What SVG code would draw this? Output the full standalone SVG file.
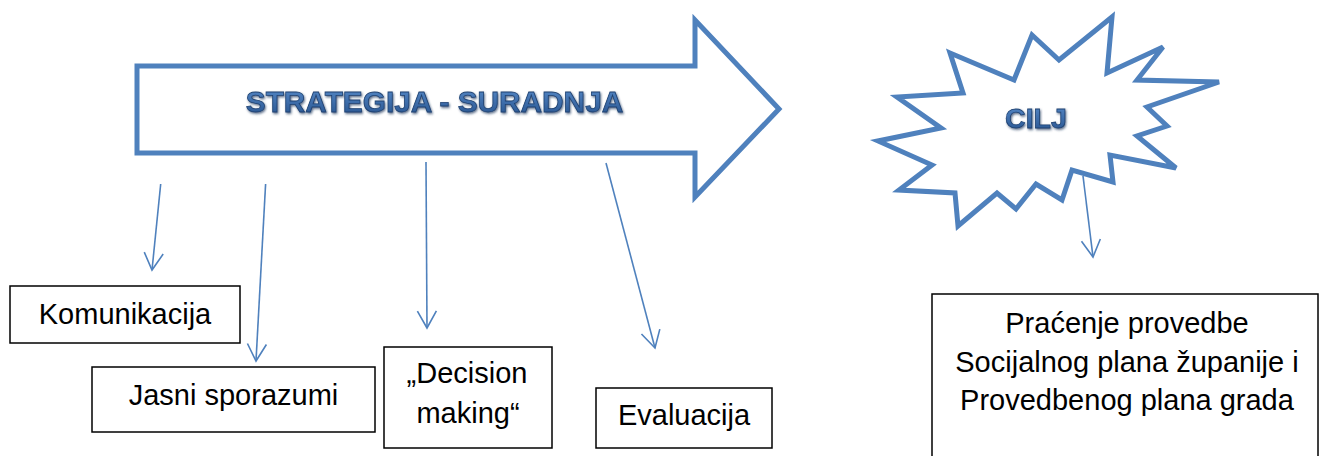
<svg xmlns="http://www.w3.org/2000/svg" width="1319" height="456" viewBox="0 0 1319 456">
<style>
.shape{fill:#ffffff;stroke:#4f81bd;stroke-width:5;stroke-linejoin:miter}
.box{fill:#ffffff;stroke:#000000;stroke-width:1.5}
.lbl{font-family:"Liberation Sans",Arial,sans-serif;font-size:29px;fill:#000000;text-anchor:middle}
.title{font-family:"Liberation Sans",Arial,sans-serif;font-weight:bold;fill:url(#tg);stroke:#1f4272;stroke-width:0.8;text-anchor:middle;filter:url(#sh)}
.conn{fill:none;stroke:#4f81bd;stroke-width:1.6;marker-end:url(#open)}
</style>
<defs>
<linearGradient id="tg" x1="0" y1="0" x2="0" y2="1">
<stop offset="0" stop-color="#5a8ccb"/>
<stop offset="1" stop-color="#24518c"/>
</linearGradient>
<filter id="sh" x="-10%" y="-30%" width="120%" height="160%">
<feDropShadow dx="1" dy="1.5" stdDeviation="1" flood-color="#1a355a" flood-opacity="0.7"/>
</filter>
<marker id="open" markerUnits="userSpaceOnUse" markerWidth="20" markerHeight="22" refX="18" refY="10" orient="auto" viewBox="0 0 20 20">
<path d="M1,0.5 L18,10 L1,19.5" fill="none" stroke="#4f81bd" stroke-width="1.6"/>
</marker>
</defs>
<g id="strategija">
<polygon class="shape" points="137,66 695,66 695,20 779,109 695,197 695,153 137,153"/>
<text class="title" x="434.5" y="112" font-size="29.8">STRATEGIJA - SURADNJA</text>
</g>
<g id="cilj">
<polygon class="shape" stroke-linejoin="round" points="950,53 1014,80 1032,35 1059,60 1112,17 1107,73 1163,47 1137,80 1219,82 1147,107 1167,126 1137,136 1176,168 1110,155 1113,182 1072,170 1062,200 1036,184 1016,209 997,193 958,226 955,193 899,190 932,165 878,141 941,128 897,97 963,93"/>
<text class="title" x="1036" y="128" font-size="28.5">CILJ</text>
</g>
<g id="komunikacija">
<rect class="box" x="10" y="286" width="230" height="57"/>
<text class="lbl" x="125" y="324">Komunikacija</text>
</g>
<g id="jasni">
<rect class="box" x="92" y="367" width="283" height="65"/>
<text class="lbl" x="233.5" y="405">Jasni sporazumi</text>
</g>
<g id="decision">
<rect class="box" x="384" y="347" width="168" height="101"/>
<text class="lbl" x="467" y="383">„Decision</text>
<text class="lbl" x="468" y="423">making“</text>
</g>
<g id="evaluacija">
<rect class="box" x="596" y="388" width="176" height="60"/>
<text class="lbl" x="684" y="425">Evaluacija</text>
</g>
<g id="pracenje">
<rect class="box" x="932" y="294" width="386" height="200"/>
<text class="lbl" x="1127" y="333">Praćenje provedbe</text>
<text class="lbl" x="1127" y="372">Socijalnog plana županije i</text>
<text class="lbl" x="1127" y="410">Provedbenog plana grada</text>
</g>
<g id="connectors">
<line class="conn" x1="160.7" y1="184" x2="152" y2="270"/>
<line class="conn" x1="265.6" y1="184" x2="256" y2="361"/>
<line class="conn" x1="426" y1="162" x2="427" y2="328"/>
<line class="conn" x1="606" y1="163" x2="655" y2="348"/>
<line class="conn" x1="1083" y1="176" x2="1093" y2="257"/>
</g>
</svg>
